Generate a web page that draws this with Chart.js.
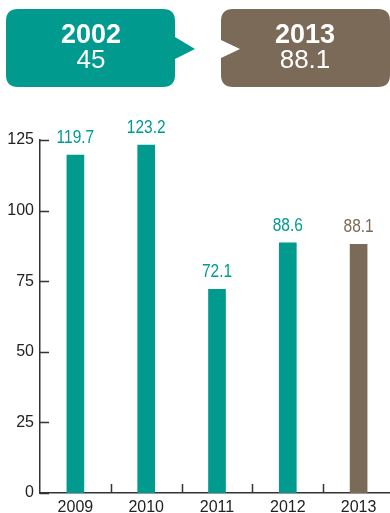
<!DOCTYPE html>
<html>
<head>
<meta charset="utf-8">
<script src="https://cdn.jsdelivr.net/npm/chart.js@4.4.1/dist/chart.umd.min.js"></script>
<style>
  html, body { margin: 0; padding: 0; background: #fff; overflow: hidden; }
  body { width: 390px; height: 513px; position: relative; }
  #wrap { position: absolute; left: 0; top: 0; width: 394px; height: 513px; }
  #callouts { position: absolute; left: 0; top: 0; }
</style>
</head>
<body>
<div id="wrap"><canvas id="chart" width="394" height="513"></canvas></div>
<svg id="callouts" width="390" height="100" xmlns="http://www.w3.org/2000/svg">
  <path id="boxA" fill="#009a8f"/>
  <path id="boxB" fill="#7c6a58"/>
  <text id="yearA" x="91" y="43" text-anchor="middle" fill="#fff" font-family="Liberation Sans, Arial, sans-serif" font-weight="bold" font-size="27"></text>
  <text id="valA" x="91" y="68" text-anchor="middle" fill="#fff" font-family="Liberation Sans, Arial, sans-serif" font-size="26"></text>
  <text id="yearB" x="305" y="43" text-anchor="middle" fill="#fff" font-family="Liberation Sans, Arial, sans-serif" font-weight="bold" font-size="27"></text>
  <text id="valB" x="305" y="68" text-anchor="middle" fill="#fff" font-family="Liberation Sans, Arial, sans-serif" font-size="26"></text>
</svg>
<script>
const years = ['2009', '2010', '2011', '2012', '2013'];
const values = [119.7, 123.2, 72.1, 88.6, 88.1];
const yTicks = [0, 25, 50, 75, 100, 125];
const compareYears = ['2002', '2013'];
const compareValues = [45, 88.1];

const TEAL = '#009a8f';
const BROWN = '#7c6a58';
const AXIS = '#333333';
const barColors = values.map((v, i) => i === values.length - 1 ? BROWN : TEAL);
const labelFont = 'Liberation Sans, Arial, sans-serif';

// speech-bubble boxes at the top
document.getElementById('boxA').setAttribute('d',
  'M18 9 H163 Q175 9 175 21 V37 L195 49 L175 59 V75 Q175 87 163 87 H18 Q6 87 6 75 V21 Q6 9 18 9 Z');
document.getElementById('boxB').setAttribute('d',
  'M233 9 H378 Q390 9 390 21 V75 Q390 87 378 87 H233 Q221 87 221 75 V58 L240 49 L221 40 V21 Q221 9 233 9 Z');
document.getElementById('yearA').textContent = compareYears[0];
document.getElementById('valA').textContent = compareValues[0];
document.getElementById('yearB').textContent = compareYears[1];
document.getElementById('valB').textContent = compareValues[1];

// short inward tick marks on both axes
const innerTicks = {
  id: 'innerTicks',
  afterDraw(chart) {
    const { ctx, chartArea, scales } = chart;
    ctx.save();
    ctx.strokeStyle = AXIS;
    ctx.lineWidth = 1.5;
    ctx.beginPath();
    yTicks.forEach(v => {
      const y = Math.round(scales.y.getPixelForValue(v)) + 0.5;
      ctx.moveTo(chartArea.left, y);
      ctx.lineTo(chartArea.left + 9, y);
    });
    for (let i = 1; i < years.length; i++) {
      const x = Math.round(scales.x.getPixelForValue(i - 0.5)) + 0.5;
      ctx.moveTo(x, chartArea.bottom);
      ctx.lineTo(x, chartArea.bottom - 9);
    }
    ctx.stroke();
    ctx.restore();
  }
};

// value labels above each bar, slightly condensed
const barLabels = {
  id: 'barLabels',
  afterDatasetsDraw(chart) {
    const { ctx } = chart;
    const meta = chart.getDatasetMeta(0);
    ctx.save();
    ctx.font = '18px ' + labelFont;
    ctx.textAlign = 'center';
    ctx.textBaseline = 'alphabetic';
    meta.data.forEach((bar, i) => {
      ctx.save();
      ctx.translate(bar.x, bar.y - 12);
      ctx.scale(0.86, 1);
      ctx.fillStyle = barColors[i];
      ctx.fillText(values[i].toFixed(1), 0, 0);
      ctx.restore();
    });
    ctx.restore();
  }
};

new Chart(document.getElementById('chart'), {
  type: 'bar',
  data: {
    labels: years,
    datasets: [{
      data: values,
      backgroundColor: barColors,
      barThickness: 17
    }]
  },
  options: {
    responsive: false,
    animation: false,
    layout: { padding: { top: 140, left: 0, right: 0, bottom: 0 } },
    plugins: { legend: { display: false }, tooltip: { enabled: false } },
    scales: {
      x: {
        grid: { display: false, drawTicks: false },
        border: { color: AXIS, width: 1.5 },
        ticks: { color: '#222', padding: 5, font: { family: labelFont, size: 16 } },
        afterFit(scale) { scale.height = 20; }
      },
      y: {
        min: 0,
        max: 125,
        afterBuildTicks(scale) { scale.ticks = yTicks.map(v => ({ value: v })); },
        grid: { display: false, drawTicks: false },
        border: { color: AXIS, width: 1.5 },
        ticks: { color: '#222', padding: 6, font: { family: labelFont, size: 16 } },
        afterFit(scale) { scale.width = 40; }
      }
    }
  },
  plugins: [innerTicks, barLabels]
});
</script>
</body>
</html>
